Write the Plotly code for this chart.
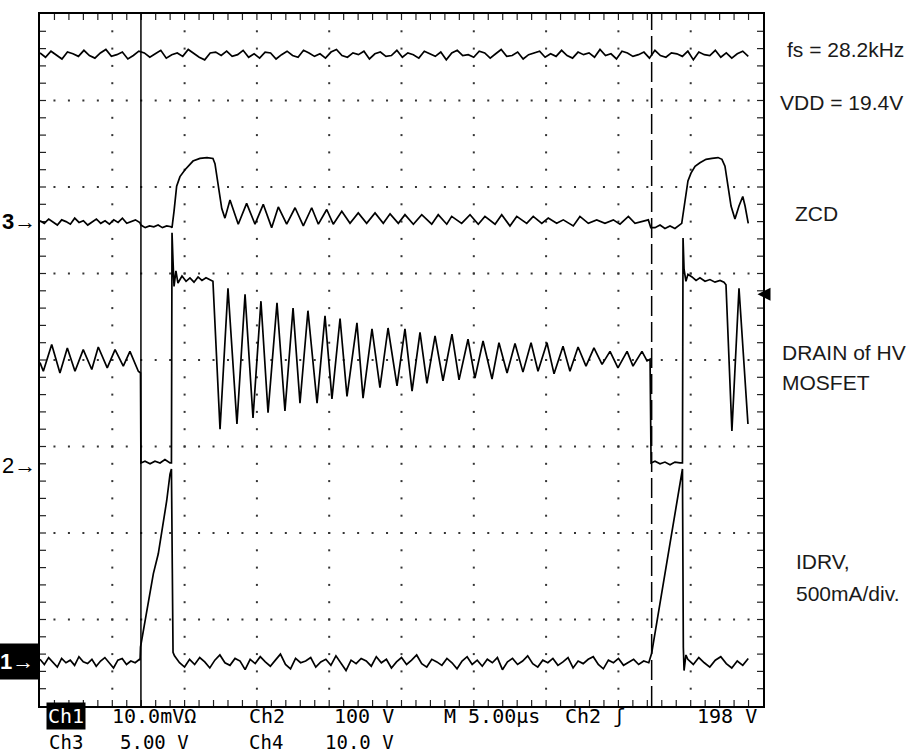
import numpy as np
import plotly.graph_objects as go

# ---------------- scope settings (µs on x, screen divisions on y) ----------------
T_PER_DIV = 5.0
X_DIVS = 10
Y_DIVS = 8

# ---------------- Channel 4 (top trace), evenly sampled ----------------
CH4_T_RANGE = (0.0, 48.98)
CH4_V = [3.55, 3.50, 3.57, 3.53, 3.48, 3.56, 3.54, 3.51, 3.58, 3.52,
         3.49, 3.55, 3.59, 3.51, 3.53, 3.56, 3.48, 3.52, 3.57, 3.55,
         3.50, 3.54, 3.58, 3.49, 3.53, 3.55, 3.51, 3.59, 3.54, 3.50,
         3.47, 3.55, 3.56, 3.52, 3.57, 3.51, 3.53, 3.58, 3.50, 3.54,
         3.49, 3.56, 3.55, 3.48, 3.53, 3.57, 3.52, 3.50, 3.58, 3.55,
         3.51, 3.54, 3.49, 3.56, 3.59, 3.52, 3.50, 3.55, 3.53, 3.57,
         3.48, 3.54, 3.56, 3.51, 3.52, 3.58, 3.50, 3.55, 3.53, 3.49,
         3.57, 3.54, 3.51, 3.56, 3.47, 3.55, 3.58, 3.52, 3.53, 3.50,
         3.57, 3.55, 3.49, 3.54, 3.59, 3.51, 3.52, 3.56, 3.48, 3.53,
         3.55, 3.57, 3.50, 3.54, 3.51, 3.58, 3.52, 3.49, 3.56, 3.53,
         3.55, 3.50, 3.59, 3.52, 3.54, 3.48, 3.57, 3.55, 3.51, 3.53,
         3.56, 3.49, 3.58, 3.52, 3.50, 3.55, 3.54, 3.51, 3.57, 3.47,
         3.56, 3.53, 3.52, 3.58, 3.50, 3.55, 3.49, 3.54, 3.57, 3.51]

# ---------------- Channel 3 (ZCD) ----------------
CH3_PRE_T_RANGE = (0.0, 6.9)
CH3_PRE_V = [1.61, 1.58, 1.63, 1.59, 1.56, 1.62, 1.60, 1.57, 1.64, 1.59, 1.61, 1.56,
             1.60, 1.63, 1.58, 1.61, 1.57, 1.62, 1.59, 1.64, 1.58, 1.60, 1.62, 1.59]
CH3_LOW_T_RANGE = (6.98, 9.06)
CH3_LOW_V = [1.56, 1.53, 1.55, 1.54, 1.56, 1.53, 1.55, 1.54]
CH3_T = [9.13, 9.27, 9.45, 9.68, 10.03, 10.58, 11.06, 11.55, 11.96, 12.10,
         12.31, 12.57, 12.79, 13.14, 13.71, 14.29, 14.87, 15.44, 16.02, 16.48,
         17.06, 17.64, 18.21, 18.79, 19.25, 19.83, 20.28, 20.87, 21.44, 22.01,
         22.59, 23.17, 23.74, 24.21, 24.78, 25.24, 25.82, 26.40, 27.09, 27.54,
         28.13, 28.47, 29.16, 29.74, 30.31, 30.77, 31.47, 31.93, 32.50, 32.97,
         33.66, 34.11, 34.70, 35.15, 35.73, 36.19, 36.88, 37.34, 37.92, 38.50,
         39.07, 39.65, 40.11, 40.69, 41.15, 41.61, 42.07, 42.24, 42.53, 42.88,
         43.22, 43.57, 43.91, 44.38, 44.47, 44.67, 44.81, 45.02, 45.30, 45.64,
         46.06, 46.47, 46.89, 47.16, 47.37, 47.58, 47.79, 48.06, 48.34, 48.60,
         48.76, 48.98]
CH3_V = [1.53, 1.72, 2.01, 2.12, 2.20, 2.30, 2.33, 2.34, 2.33, 2.27,
         2.01, 1.75, 1.64, 1.85, 1.57, 1.81, 1.57, 1.80, 1.53, 1.77,
         1.57, 1.76, 1.55, 1.76, 1.57, 1.74, 1.57, 1.72, 1.58, 1.70,
         1.58, 1.70, 1.58, 1.69, 1.58, 1.68, 1.57, 1.68, 1.57, 1.68,
         1.57, 1.66, 1.58, 1.68, 1.57, 1.66, 1.57, 1.68, 1.55, 1.66,
         1.58, 1.66, 1.58, 1.64, 1.58, 1.62, 1.55, 1.66, 1.58, 1.62,
         1.58, 1.62, 1.57, 1.66, 1.58, 1.60, 1.62, 1.53, 1.53, 1.56,
         1.52, 1.55, 1.52, 1.58, 1.68, 1.89, 2.07, 2.16, 2.24, 2.28,
         2.32, 2.33, 2.34, 2.32, 2.24, 2.01, 1.78, 1.63, 1.78, 1.89,
         1.78, 1.58]

# ---------------- Channel 2 (DRAIN of HV MOSFET) ----------------
CH2_T = [0.00, 0.23, 0.81, 1.38, 1.89, 2.42, 2.99, 3.58, 4.03, 4.65,
         5.19, 5.76, 6.22, 6.80, 6.95, 6.98, 7.26, 7.61, 7.95, 8.30,
         8.64, 8.99, 9.09, 9.13, 9.20, 9.27, 9.40, 9.54, 9.82, 10.10,
         10.37, 10.65, 10.93, 11.20, 11.48, 11.76, 11.96,
         12.45, 13.00, 13.62, 14.18, 14.73, 15.28, 15.77, 16.39, 16.94, 17.50,
         17.98, 18.53, 19.16, 19.71, 20.19, 20.75, 21.23, 21.92, 22.34, 22.96,
         23.51, 24.07, 24.69, 25.24, 25.73, 26.28, 26.76, 27.32, 27.87, 28.49,
         28.98, 29.60, 30.08, 30.64, 31.26, 31.74, 32.30, 32.85, 33.40, 33.96,
         34.44, 35.06, 35.55, 36.17, 36.65, 37.21, 37.76, 38.31, 38.87, 39.42,
         39.97, 40.60, 41.01, 41.63, 41.98, 42.19, 42.26,
         42.53, 42.88, 43.22, 43.57, 43.91, 44.26, 44.43, 44.47, 44.54, 44.67,
         44.81, 45.09, 45.37, 45.64, 45.99, 46.33, 46.68, 47.03, 47.30, 47.44,
         47.85, 48.34, 48.96]
CH2_V = [-0.03, -0.13, 0.18, -0.15, 0.14, -0.13, 0.12, -0.11, 0.15, -0.09,
         0.12, -0.07, 0.10, -0.13, -0.15, -1.19, -1.17, -1.20, -1.17, -1.19,
         -1.15, -1.19, -1.19, 1.47, 1.14, 0.85, 1.03, 0.89, 0.97, 0.91,
         0.95, 0.90, 0.96, 0.92, 0.95, 0.93, 0.91,
         -0.80, 0.83, -0.74, 0.76, -0.67, 0.68, -0.61, 0.66, -0.59, 0.60,
         -0.50, 0.57, -0.50, 0.51, -0.45, 0.48, -0.42, 0.43, -0.44, 0.36,
         -0.32, 0.37, -0.30, 0.36, -0.36, 0.32, -0.27, 0.28, -0.24, 0.30,
         -0.23, 0.24, -0.21, 0.22, -0.22, 0.20, -0.15, 0.19, -0.14, 0.20,
         -0.13, 0.20, -0.16, 0.16, -0.13, 0.15, -0.07, 0.14, -0.05, 0.10,
         -0.09, 0.10, -0.07, 0.10, -0.01, 0.01, -1.19,
         -1.17, -1.20, -1.18, -1.21, -1.18, -1.19, -1.19, 1.41, 1.05, 0.91,
         0.99, 0.96, 0.92, 0.95, 0.91, 0.93, 0.90, 0.92, 0.90, 0.87,
         -0.82, 0.83, -0.74]

# ---------------- Channel 1 (IDRV) ----------------
CH1_A_T_RANGE = (0.0, 6.88)
CH1_A_V = [-3.46, -3.52, -3.44, -3.49, -3.55, -3.45, -3.50, -3.47, -3.53, -3.43,
           -3.49, -3.51, -3.46, -3.54, -3.48, -3.44, -3.50, -3.56, -3.47, -3.45,
           -3.52, -3.48, -3.50, -3.46]
CH1_RAMP1_T = [6.92, 6.95, 7.21, 7.84, 8.18, 8.76, 8.99, 9.09, 9.15, 9.20]
CH1_RAMP1_V = [-3.47, -3.32, -3.07, -2.47, -2.24, -1.63, -1.32, -1.26, -2.41, -3.38]
CH1_B_T_RANGE = (9.3, 42.1)
CH1_B_V = [-3.42, -3.50, -3.55, -3.46, -3.52, -3.44, -3.49, -3.56, -3.47, -3.41,
           -3.50, -3.53, -3.45, -3.48, -3.58, -3.46, -3.51, -3.43, -3.49, -3.54,
           -3.47, -3.40, -3.52, -3.57, -3.45, -3.50, -3.48, -3.44, -3.55, -3.49,
           -3.46, -3.53, -3.42, -3.50, -3.59, -3.47, -3.51, -3.45, -3.48, -3.54,
           -3.43, -3.50, -3.46, -3.56, -3.49, -3.44, -3.52, -3.47, -3.41, -3.51,
           -3.55, -3.46, -3.49, -3.53, -3.45, -3.50, -3.57, -3.48, -3.43, -3.52,
           -3.47, -3.54, -3.46, -3.50, -3.44, -3.58, -3.49, -3.45, -3.52, -3.48,
           -3.42, -3.51, -3.55, -3.47, -3.50, -3.45, -3.53, -3.49, -3.44, -3.56,
           -3.48, -3.51, -3.46, -3.43, -3.52, -3.57, -3.47, -3.50, -3.45, -3.53,
           -3.49, -3.46, -3.52, -3.48, -3.50]
CH1_RAMP2_T = [42.19, 42.30, 42.39, 42.88, 43.43, 43.91, 44.33, 44.43, 44.49, 44.54, 44.67]
CH1_RAMP2_V = [-3.45, -3.39, -3.30, -2.81, -2.24, -1.75, -1.32, -1.26, -3.32, -3.59, -3.41]
CH1_C_T_RANGE = (44.8, 48.98)
CH1_C_V = [-3.46, -3.52, -3.44, -3.50, -3.55, -3.47, -3.43, -3.51, -3.56, -3.48, -3.53, -3.45]

# ---------------- markers / cursors / labels ----------------
CH3_REF = 1.60
CH2_REF = -1.22
CH1_REF = -3.48
TRIG_LEVEL = 0.76
CURSOR_SOLID_T = 6.98
CURSOR_DASH_T = 42.30

RIGHT_LABELS = [("fs = 28.2kHz", 785, 48), ("VDD = 19.4V", 778, 101), ("ZCD", 793, 212),
                ("DRAIN of HV", 780, 351), ("MOSFET", 780, 382),
                ("IDRV,", 794, 561), ("500mA/div.", 794, 593)]
BOTTOM_ROW1 = [("10.0mVΩ", 110), ("Ch2", 247), ("100 V", 332), ("M 5.00µs", 442),
               ("Ch2 ʃ", 563), ("198 V", 695)]
BOTTOM_ROW2 = [("Ch3", 47), ("5.00 V", 118), ("Ch4", 247), ("10.0 V", 323)]

# ---------------- layout geometry ----------------
W, H = 911, 755
ML, MR, MT, MB = 40, 148, 12, 49
PW, PH = W - ML - MR, H - MT - MB


def px_x(px):
    return (px - ML) / PW


def px_y(py):
    return (H - MB - py) / PH


def sampled(rng, vals):
    return list(np.linspace(rng[0], rng[1], len(vals))), list(vals)


t4, v4 = sampled(CH4_T_RANGE, CH4_V)

a_t, a_v = sampled(CH3_PRE_T_RANGE, CH3_PRE_V)
b_t, b_v = sampled(CH3_LOW_T_RANGE, CH3_LOW_V)
t3 = a_t + b_t + CH3_T
v3 = a_v + b_v + CH3_V

a_t, a_v = sampled(CH1_A_T_RANGE, CH1_A_V)
b_t, b_v = sampled(CH1_B_T_RANGE, CH1_B_V)
c_t, c_v = sampled(CH1_C_T_RANGE, CH1_C_V)
t1 = a_t + CH1_RAMP1_T + b_t + CH1_RAMP2_T + c_t
v1 = a_v + CH1_RAMP1_V + b_v + CH1_RAMP2_V + c_v

T_MAX = T_PER_DIV * X_DIVS
V_MAX = Y_DIVS / 2

fig = go.Figure()

# graticule dots (1/5-division marks on every grid line)
gx, gy = [], []
for k in range(1, X_DIVS):
    for j in np.arange(-V_MAX + 0.2, V_MAX - 0.1, 0.2):
        gx.append(k * T_PER_DIV)
        gy.append(j)
for k in range(-int(V_MAX) + 1, int(V_MAX)):
    for j in np.arange(1.0, T_MAX - 0.5, 1.0):
        gx.append(j)
        gy.append(k)
fig.add_trace(go.Scatter(x=gx, y=gy, mode="markers", hoverinfo="skip",
                         marker=dict(symbol="square", size=2, color="#333333", line=dict(width=0))))

# border ticks
dx_in = T_MAX / PW * 2.5
dy_in = Y_DIVS / PH * 2.5
bx = [dx_in] * 39 + [T_MAX - dx_in] * 39
by = list(np.arange(-V_MAX + 0.2, V_MAX - 0.1, 0.2)) * 2
fig.add_trace(go.Scatter(x=bx, y=by, mode="markers", hoverinfo="skip",
                         marker=dict(symbol="line-ew", size=5, line=dict(width=1.2, color="#222"))))
tx = list(np.arange(1.0, T_MAX - 0.5, 1.0)) * 2
ty = [V_MAX - dy_in] * 49 + [-V_MAX + dy_in] * 49
fig.add_trace(go.Scatter(x=tx, y=ty, mode="markers", hoverinfo="skip",
                         marker=dict(symbol="line-ns", size=5, line=dict(width=1.2, color="#222"))))

line = dict(color="black", width=1.7)
for t, v in [(t4, v4), (t3, v3), (CH2_T, CH2_V), (t1, v1)]:
    fig.add_trace(go.Scatter(x=t, y=v, mode="lines", line=line, hoverinfo="skip"))

# cursors
fig.add_shape(type="line", xref="x", yref="paper", x0=CURSOR_SOLID_T, x1=CURSOR_SOLID_T,
              y0=0, y1=1, line=dict(color="black", width=1.5))
fig.add_shape(type="line", xref="x", yref="paper", x0=CURSOR_DASH_T, x1=CURSOR_DASH_T,
              y0=0, y1=1, line=dict(color="black", width=1.5, dash="20px,6px"))

ann = []
# channel reference markers
ann.append(dict(x=-0.003, y=CH3_REF, xref="paper", yref="y", text="<b>3</b>→", showarrow=False,
                xanchor="right", yanchor="middle",
                font=dict(family="Liberation Sans", size=22, color="black")))
ann.append(dict(x=-0.003, y=CH2_REF, xref="paper", yref="y", text="2→", showarrow=False,
                xanchor="right", yanchor="middle",
                font=dict(family="Liberation Sans", size=22, color="black")))
ann.append(dict(x=0.0, y=CH1_REF, xref="paper", yref="y", text="<b>1</b>→", showarrow=False,
                xanchor="right", yanchor="middle", bgcolor="black", borderpad=5,
                font=dict(family="Liberation Sans", size=22, color="white")))
# trigger level arrow
ann.append(dict(x=T_MAX - 2.2 * dx_in, y=TRIG_LEVEL, xref="x", yref="y", text="", showarrow=True,
                ax=14, ay=0, arrowhead=2, arrowsize=1.3, arrowwidth=2, arrowcolor="black", standoff=0))

for txt, x, y in RIGHT_LABELS:
    ann.append(dict(x=px_x(x), y=px_y(y), xref="paper", yref="paper", text=txt, showarrow=False,
                    xanchor="left", yanchor="middle",
                    font=dict(family="Liberation Sans, Arial", size=21, color="#1a1a1a")))

mono = "DejaVu Sans Mono"
ann.append(dict(x=px_x(46), y=px_y(716), xref="paper", yref="paper", text="Ch1", showarrow=False,
                xanchor="left", yanchor="middle", bgcolor="black", borderpad=1,
                font=dict(family=mono, size=20, color="white")))
for txt, x in BOTTOM_ROW1:
    ann.append(dict(x=px_x(x), y=px_y(716), xref="paper", yref="paper", text=txt, showarrow=False,
                    xanchor="left", yanchor="middle", font=dict(family=mono, size=20, color="black")))
for txt, x in BOTTOM_ROW2:
    ann.append(dict(x=px_x(x), y=px_y(742), xref="paper", yref="paper", text=txt, showarrow=False,
                    xanchor="left", yanchor="middle", font=dict(family=mono, size=19, color="black")))

fig.update_layout(
    width=W, height=H, margin=dict(l=ML, r=MR, t=MT, b=MB),
    paper_bgcolor="white", plot_bgcolor="white", showlegend=False,
    annotations=ann,
    xaxis=dict(range=[0, T_MAX], showgrid=False, zeroline=False, showticklabels=False, ticks="",
               showline=True, mirror=True, linecolor="black", linewidth=1.5, fixedrange=True),
    yaxis=dict(range=[-V_MAX, V_MAX], showgrid=False, zeroline=False, showticklabels=False, ticks="",
               showline=True, mirror=True, linecolor="black", linewidth=1.5, fixedrange=True),
)

fig.write_html("out.html", config={"displayModeBar": False},
               post_script="document.body.style.margin='0';document.body.style.overflow='hidden';")
